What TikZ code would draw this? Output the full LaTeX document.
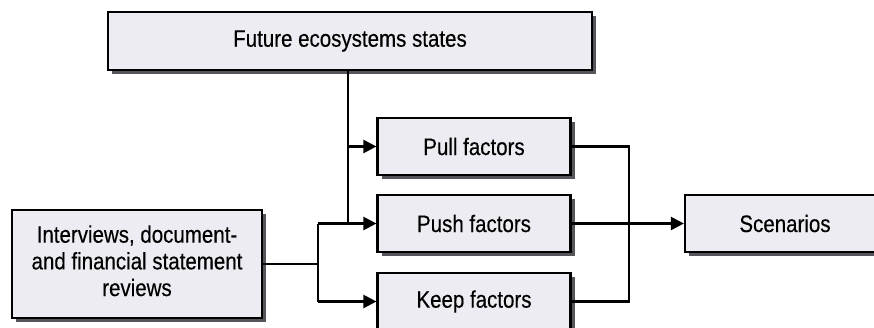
\documentclass[tikz,border=0pt]{standalone}
\usepackage{fontspec}
\usepackage{graphicx}
\setmainfont{Liberation Sans}
\newfontfamily\labelfont[FakeBold=0.35]{Liberation Sans}
\usetikzlibrary{arrows.meta,shadows}
\definecolor{boxfill}{RGB}{236,236,242}
\definecolor{shadowgray}{RGB}{85,85,92}
% slightly tall lettering
\newcommand{\tall}[1]{\scalebox{1}[1.16]{#1}}
\tikzset{
  stagebox/.style={draw=black, line width=2.2pt, fill=boxfill, inner sep=0pt,
    align=center, font=\labelfont\fontsize{20.5}{23}\selectfont,
    drop shadow={shadow xshift=4pt, shadow yshift=-4pt, fill=shadowgray, opacity=1}},
  link/.style={line width=2.3pt, draw=black},
  flow/.style={link, -{Triangle[length=13pt,width=13pt]}}
}
\begin{document}
\begin{tikzpicture}[x=1pt,y=-1pt]
  \useasboundingbox (0,0) rectangle (874,327);
  \clip (0,0) rectangle (874,327);

  % stages
  \node[stagebox, minimum width=484pt, minimum height=58pt] (future) at (350,41) {\tall{Future ecosystems states}};
  \node[stagebox, minimum width=193pt, minimum height=57pt] (pull) at (474,146.5) {\tall{Pull factors}};
  \node[stagebox, minimum width=193pt, minimum height=57pt] (push) at (474,223.5) {\tall{Push factors}};
  \node[stagebox, minimum width=193pt, minimum height=57pt] (keep) at (474,301.5) {\tall{Keep factors}};
  \node[stagebox, minimum width=250pt, minimum height=108pt] (inputs) at (137,264)
    {\tall{\begin{tabular}{@{}c@{}}Interviews, document-\\and financial statement\\reviews\end{tabular}}};
  \node[stagebox, minimum width=200pt, minimum height=57pt] (scen) at (785,223.5) {\tall{Scenarios}};

  % junction points
  \coordinate (fjoin) at (348,223.5);
  \coordinate (ijoin) at (318,264);
  \coordinate (ojoin) at (629,223.5);

  % from the future states down to the pull and push boxes
  \draw[link] (future.south -| fjoin) -- (fjoin);
  \draw[flow] (fjoin |- pull.west) -- (pull.west);

  % from the reviews to the push and keep boxes
  \draw[link] (inputs.east |- ijoin) -- (ijoin);
  \draw[link] (ijoin |- push.west) -- (ijoin |- keep.west);
  \draw[flow] (ijoin |- push.west) -- (push.west);
  \draw[flow] (ijoin |- keep.west) -- (keep.west);

  % the three factors merge into the scenarios
  \draw[link] (pull.east) -- (ojoin |- pull.east) -- (ojoin |- keep.east) -- (keep.east);
  \draw[flow] (push.east) -- (scen.west);
\end{tikzpicture}
\end{document}
